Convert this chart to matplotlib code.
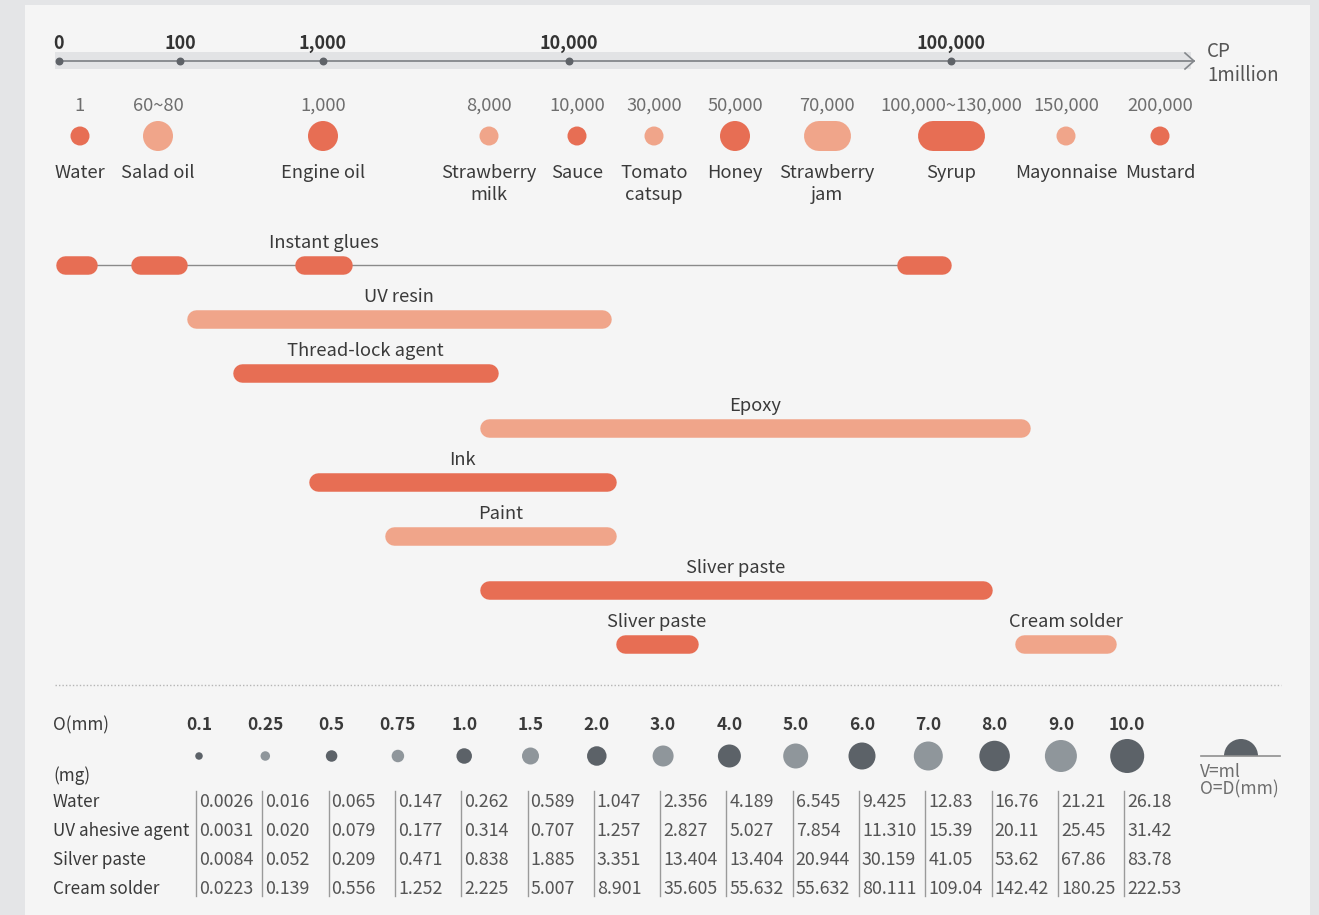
import numpy as np
import matplotlib.pyplot as plt
from matplotlib.patches import Rectangle, Circle, Wedge

plt.rcParams['font.family'] = ['Noto Sans CJK KR', 'DejaVu Sans']

# ---- data ----
# viscosity scale (CP)
scale_values = [0, 100, 1000, 10000, 100000, 1000000]
scale_labels = ['0', '100', '1,000', '10,000', '100,000']

materials = ['Water', 'Salad oil', 'Engine oil', 'Strawberry\nmilk', 'Sauce',
             'Tomato\ncatsup', 'Honey', 'Strawberry\njam', 'Syrup',
             'Mayonnaise', 'Mustard']
material_cp = ['1', '60~80', '1,000', '8,000', '10,000', '30,000', '50,000',
               '70,000', '100,000~130,000', '150,000', '200,000']

applications = ['Instant glues', 'UV resin', 'Thread-lock agent', 'Epoxy',
                'Ink', 'Paint', 'Sliver paste', 'Sliver paste', 'Cream solder']
# viscosity ranges (CP)
app_ranges = [
    [(-3, 32), (59, 144), (824, 2060), (87300, 100000)],
    [(144, 19900)],
    [(430, 7400)],
    [(6740, 397000)],
    [(910, 21100)],
    [(3270, 21100)],
    [(6740, 254000)],
    [(21100, 40400)],
    [(341000, 721000)],
]

diameters = ['0.1', '0.25', '0.5', '0.75', '1.0', '1.5', '2.0', '3.0', '4.0',
             '5.0', '6.0', '7.0', '8.0', '9.0', '10.0']
fluids = ['Water', 'UV ahesive agent', 'Silver paste', 'Cream solder']
mass_water = ['0.0026', '0.016', '0.065', '0.147', '0.262', '0.589', '1.047',
              '2.356', '4.189', '6.545', '9.425', '12.83', '16.76', '21.21', '26.18']
mass_uv = ['0.0031', '0.020', '0.079', '0.177', '0.314', '0.707', '1.257',
           '2.827', '5.027', '7.854', '11.310', '15.39', '20.11', '25.45', '31.42']
mass_silver = ['0.0084', '0.052', '0.209', '0.471', '0.838', '1.885', '3.351',
               '13.404', '13.404', '20.944', '30.159', '41.05', '53.62', '67.86', '83.78']
mass_cream = ['0.0223', '0.139', '0.556', '1.252', '2.225', '5.007', '8.901',
              '35.605', '55.632', '55.632', '80.111', '109.04', '142.42', '180.25', '222.53']
mass_table = [mass_water, mass_uv, mass_silver, mass_cream]

# ---- layout / style ----
DARK = '#e76e54'
LIGHT = '#f0a58a'
GDARK = '#5c6268'
GLIGHT = '#8f969b'
TXT = '#3a3a3a'
SUB = '#6e6e6e'
PX_TO_PT = 72 / 100  # figure is saved at 100 dpi

scale_x = [59, 180, 323, 569, 951, 1190]
material_x = [80, 158, 323, 489, 577, 654, 735, 827, 951, 1066, 1160]
material_wh = [(19, 19), (30, 30), (30, 30), (19, 19), (19, 19), (19, 19),
               (30, 30), (47, 30), (67, 30), (19, 19), (19, 19)]
app_row = [0, 1, 2, 3, 4, 5, 6, 7, 7]
app_tone = [DARK, LIGHT, DARK, LIGHT, DARK, LIGHT, DARK, DARK, LIGHT]
dot_px = [7.5, 9.5, 11.5, 12.5, 15.5, 17, 19.5, 21, 23, 25, 27, 29, 30.5, 32, 34]


def cp_to_x(v):
    return np.interp(v, scale_values, scale_x, left=scale_x[0] + (v - scale_values[0]) * 121 / 100)


def pill(ax, x0, x1, yc, h, color):
    # stadium shape: a thick line with round caps, or a circle
    r = h / 2
    if x1 - x0 > h:
        ax.plot([x0 + r, x1 - r], [yc, yc], color=color, lw=h * PX_TO_PT,
                solid_capstyle='round', zorder=3)
    else:
        ax.add_patch(Circle(((x0 + x1) / 2, yc), r, fc=color, ec='none', zorder=3))


fig = plt.figure(figsize=(13.19, 9.15), dpi=100, facecolor='#e4e5e7')
ax = fig.add_axes([0, 0, 1, 1])
ax.set_xlim(0, 1319)
ax.set_ylim(915, 0)
ax.axis('off')
ax.add_patch(Rectangle((25, 5), 1285, 915, fc='#f5f5f5', ec='none', zorder=0))

# top viscosity axis
ax.add_patch(Rectangle((55, 52), 1136, 17, fc='#e2e3e5', ec='none', zorder=1))
ax.plot([scale_x[0], 1194], [61, 61], color='#83878b', lw=1.3, zorder=2)
ax.plot([1185, 1194, 1185], [53, 61, 69], color='#83878b', lw=1.2, zorder=2)
tick_x = [cp_to_x(v) for v in scale_values[:len(scale_labels)]]
ax.scatter(tick_x, [61] * len(tick_x), s=22, color='#5f6368', zorder=3)
for x, lab in zip(tick_x, scale_labels):
    ax.text(x, 49, lab, ha='center', va='baseline', fontsize=13,
            fontweight='bold', color='#333333')
ax.text(1207, 57, 'CP', ha='left', va='baseline', fontsize=13.5, color='#555555')
ax.text(1207, 81, '1million', ha='left', va='baseline', fontsize=13.5, color='#555555')

# material row
for i, (name, cp, x, (w, h)) in enumerate(zip(materials, material_cp, material_x, material_wh)):
    color = DARK if i % 2 == 0 else LIGHT
    pill(ax, x - w / 2, x + w / 2, 136, h, color)
    ax.text(x, 111, cp, ha='center', va='baseline', fontsize=13.2, color=SUB)
    for k, line in enumerate(name.split('\n')):
        ax.text(x, 178 + 22 * k, line, ha='center', va='baseline',
                fontsize=13.2, color=TXT)

# application bars
ax.plot([cp_to_x(app_ranges[0][0][0]) + 5, cp_to_x(app_ranges[0][-1][1]) - 5], [265, 265],
        color='#8a8a8a', lw=1, zorder=2)
for name, ranges, row, tone in zip(applications, app_ranges, app_row, app_tone):
    yc = 265 + row * 54.2
    for lo, hi in ranges:
        pill(ax, cp_to_x(lo), cp_to_x(hi), yc, 18.5, tone)
    lo, hi = ranges[2] if len(ranges) > 1 else ranges[0]
    lx = (cp_to_x(lo) + cp_to_x(hi)) / 2
    ax.text(lx, yc - 17, name, ha='center', va='baseline', fontsize=13.2, color=TXT)

# separator
ax.plot([55, 1281], [685, 685], color='#b5b5b5', lw=1, ls=(0, (1, 1.5)))

# drop size table
col_x = [196 + 66.3 * i for i in range(len(diameters))]
ax.text(53, 730, 'O(mm)', ha='left', va='baseline', fontsize=12.3, color=TXT)
ax.text(53, 781, '(mg)', ha='left', va='baseline', fontsize=12.3, color=TXT)
for i, (d, x) in enumerate(zip(diameters, col_x)):
    cx = x + 3
    ax.text(cx, 730, d, ha='center', va='baseline', fontsize=12.5,
            fontweight='bold', color=TXT)
    pill(ax, cx - dot_px[i] / 2, cx + dot_px[i] / 2, 756, dot_px[i],
         GDARK if i % 2 == 0 else GLIGHT)
    ax.plot([x, x], [791, 896], color='#9a9a9a', lw=1)
row_y = [807, 836, 865, 894]
for fl, vals, y in zip(fluids, mass_table, row_y):
    ax.text(53, y, fl, ha='left', va='baseline', fontsize=12.3, color=TXT)
    for x, v in zip(col_x, vals):
        ax.text(x + 3, y, v, ha='left', va='baseline', fontsize=12.8, color='#555555')

# drop legend
ax.add_patch(Wedge((1241, 756), 17, 180, 360, fc=GDARK, ec='none', zorder=3))
ax.plot([1201, 1280], [756, 756], color='#8f8f8f', lw=1.2, zorder=4)
ax.text(1200, 777, 'V=ml', ha='left', va='baseline', fontsize=12.5, color=SUB)
ax.text(1200, 794, 'O=D(mm)', ha='left', va='baseline', fontsize=12.5, color=SUB)

fig.savefig('out.png', dpi=100, facecolor=fig.get_facecolor())
